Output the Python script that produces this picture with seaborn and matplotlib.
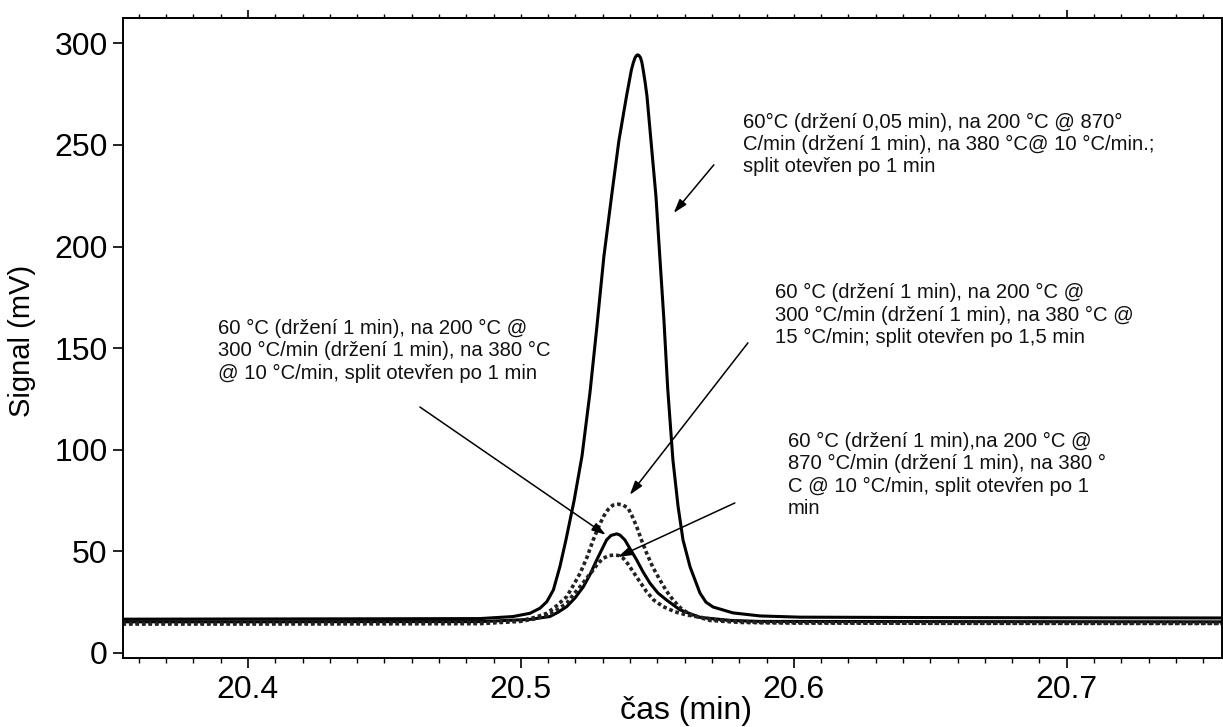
import matplotlib
matplotlib.use("Agg")
import matplotlib.pyplot as plt
import seaborn as sns
import pandas as pd
from matplotlib.ticker import MultipleLocator, FixedLocator, NullFormatter

# ---------------- data ----------------
big_t = [20.354, 20.40, 20.45, 20.485, 20.4971, 20.5033, 20.5070, 20.5095, 20.5119,
         20.5143, 20.5165, 20.5195, 20.5224, 20.5253, 20.5278, 20.5304, 20.5332,
         20.5359, 20.5387, 20.5398, 20.5405, 20.5412, 20.5418, 20.5423, 20.5427,
         20.5432, 20.5438, 20.5443, 20.5448, 20.5455, 20.5462,
         20.5478, 20.5495, 20.5509, 20.5524, 20.5538, 20.5557, 20.5576, 20.5594,
         20.5620, 20.5656, 20.5678, 20.5704, 20.5777, 20.5876, 20.6022, 20.65,
         20.70, 20.757]
big_v = [16.6, 16.7, 16.8, 16.9, 17.9, 19.5, 22.0, 25.2, 31.0,
         42.5, 55.6, 75.0, 97.0, 128.0, 160.0, 195.0, 224.5,
         252.0, 274.0, 282.0, 287.0, 290.5, 292.8, 293.9, 294.3,
         294.1, 293.0, 290.8, 287.0, 281.0, 274.0,
         250.0, 224.5, 195.0, 164.0, 130.0, 95.0, 72.0, 55.6,
         42.3, 29.5, 25.0, 22.6, 19.7, 18.2, 17.6, 17.4,
         17.3, 17.2]

solid_t = [20.354, 20.40, 20.45, 20.485, 20.5033, 20.5106, 20.5136, 20.5168, 20.5198,
           20.5229, 20.5253, 20.5278, 20.5297, 20.5314, 20.5330, 20.5351, 20.5363,
           20.5381, 20.5401, 20.5424, 20.5447, 20.5473, 20.5502, 20.5534, 20.5583,
           20.5656, 20.5766, 20.5876, 20.65, 20.757]
solid_v = [15.3, 15.3, 15.4, 15.4, 16.5, 17.9, 20.0, 22.8, 27.0,
           32.6, 38.5, 45.8, 51.0, 55.6, 57.8, 58.6, 58.0,
           55.6, 51.0, 45.8, 40.0, 34.3, 29.5, 26.0, 21.2,
           17.5, 16.0, 15.5, 15.4, 15.3]

dot_hi_t = [20.354, 20.40, 20.45, 20.485, 20.4997, 20.5052, 20.5095, 20.5129, 20.5168,
            20.5191, 20.5217, 20.5242, 20.5265, 20.5283, 20.5302, 20.5319, 20.5337,
            20.5357, 20.5374, 20.5393, 20.5407, 20.5424, 20.5442, 20.5461, 20.5484,
            20.5509, 20.5533, 20.5558, 20.5586, 20.5619, 20.5692, 20.5803, 20.60,
            20.65, 20.757]
dot_hi_v = [14.6, 14.6, 14.7, 14.8, 15.8, 17.5, 19.5, 23.0, 27.7,
            33.0, 39.2, 47.0, 55.6, 61.5, 67.0, 70.5, 72.7,
            73.2, 72.8, 71.2, 67.5, 62.2, 55.5, 49.0, 42.0,
            36.0, 30.5, 26.0, 22.0, 19.0, 16.0, 15.0, 14.7,
            14.6, 14.6]

dot_lo_t = [20.354, 20.40, 20.45, 20.485, 20.4997, 20.5052, 20.5107, 20.5136, 20.5168,
            20.5191, 20.5217, 20.5242, 20.5265, 20.5282, 20.5302, 20.5323, 20.5345,
            20.5359, 20.5375, 20.5392, 20.5411, 20.5436, 20.5461, 20.5487, 20.5521,
            20.5565, 20.5607, 20.5717, 20.5876, 20.65, 20.757]
dot_lo_v = [14.2, 14.2, 14.3, 14.4, 15.5, 16.8, 19.0, 21.5, 24.5,
            28.5, 32.6, 37.0, 40.8, 44.0, 46.6, 47.9, 48.2,
            47.9, 46.6, 43.8, 40.0, 35.0, 30.0, 26.0, 22.8,
            20.2, 18.7, 16.2, 15.0, 14.6, 14.5]

x_ticks = [20.4, 20.5, 20.6, 20.7]
y_ticks = [0, 50, 100, 150, 200, 250, 300]
x_label = "čas (min)"
y_label = "Signal (mV)"

ann_texts = [
    "60°C (držení 0,05 min), na 200 °C @ 870°\nC/min (držení 1 min), na 380 °C@ 10 °C/min.;\nsplit otevřen po 1 min",
    "60 °C (držení 1 min), na 200 °C @\n300 °C/min (držení 1 min), na 380 °C @\n15 °C/min; split otevřen po 1,5 min",
    "60 °C (držení 1 min), na 200 °C @\n300 °C/min (držení 1 min), na 380 °C\n@ 10 °C/min, split otevřen po 1 min",
    "60 °C (držení 1 min),na 200 °C @\n870 °C/min (držení 1 min), na 380 °\nC @ 10 °C/min, split otevřen po 1\nmin",
]
ann_text_xy = [(20.5814, 250.2), (20.5931, 166.3), (20.389, 148.6), (20.5979, 87.6)]
ann_tail_xy = [(20.5707, 240.2), (20.5832, 152.6), (20.463, 121.0), (20.5784, 73.8)]
ann_head_xy = [(20.5560, 216.5), (20.5399, 77.8), (20.5311, 58.1), (20.5355, 47.2)]

# ---------------- plotting ----------------
sns.set_theme(style="white")
plt.rcParams["font.family"] = ["Liberation Sans", "DejaVu Sans"]

fig = plt.figure(figsize=(12.23, 7.27), dpi=100)
ax = fig.add_axes([123 / 1223, 69 / 727, 1099 / 1223, 640.3 / 727])

series = [
    (big_t, big_v, "-", "black", 2.2),
    (solid_t, solid_v, "-", "black", 2.2),
    (dot_hi_t, dot_hi_v, (0, (1, 0.8)), "#222222", 2.6),
    (dot_lo_t, dot_lo_v, (0, (1, 0.8)), "#222222", 2.6),
]
for t, v, ls, c, lw in series:
    df = pd.DataFrame({"t": t, "v": v})
    sns.lineplot(data=df, x="t", y="v", ax=ax, estimator=None, sort=False,
                 color=c, linewidth=lw, linestyle=ls)

ax.set_xlim(20.3542, 20.7569)
ax.set_ylim(-2.5, 312.6)
ax.set_xticks(x_ticks)
ax.set_xticklabels([f"{v:.1f}" for v in x_ticks])
ax.xaxis.set_minor_locator(MultipleLocator(0.01))
ax.set_yticks(y_ticks)

for s in ax.spines.values():
    s.set_visible(True)
    s.set_color("black")
    s.set_linewidth(1.4)

ax.tick_params(axis="both", which="major", direction="out", length=7, width=1.2,
               color="black", labelsize=23, pad=4, labelcolor="black")
ax.tick_params(axis="x", which="minor", direction="out", length=3.5, width=1.0,
               color="black", bottom=True)
ax.tick_params(axis="x", which="major", bottom=True, pad=5)
ax.tick_params(axis="y", which="major", left=True)

sec = ax.secondary_xaxis("top")
sec.xaxis.set_major_locator(FixedLocator([20.4, 20.7]))
sec.xaxis.set_minor_locator(MultipleLocator(0.01))
sec.xaxis.set_major_formatter(NullFormatter())
sec.tick_params(axis="x", which="major", direction="out", length=6, width=1.2, color="black")
sec.tick_params(axis="x", which="minor", direction="out", length=3, width=1.0, color="black")
sec.spines["top"].set_linewidth(1.4)

ax.set_xlabel(x_label, fontsize=23, color="black")
ax.xaxis.set_label_coords(0.512, -0.060)
ax.set_ylabel(y_label, fontsize=21, color="black")
ax.yaxis.set_label_coords(-0.079, 0.495)

for txt, pxy, tail, head in zip(ann_texts, ann_text_xy, ann_tail_xy, ann_head_xy):
    ax.text(pxy[0], pxy[1], txt, fontsize=14.6, ha="left", va="center",
            color="#111111", linespacing=1.22)
    ax.annotate("", xy=head, xytext=tail,
                arrowprops=dict(arrowstyle="-|>,head_length=0.7,head_width=0.22",
                                color="black", lw=1.1, shrinkA=0, shrinkB=0))

fig.savefig("out.png", dpi=100)
